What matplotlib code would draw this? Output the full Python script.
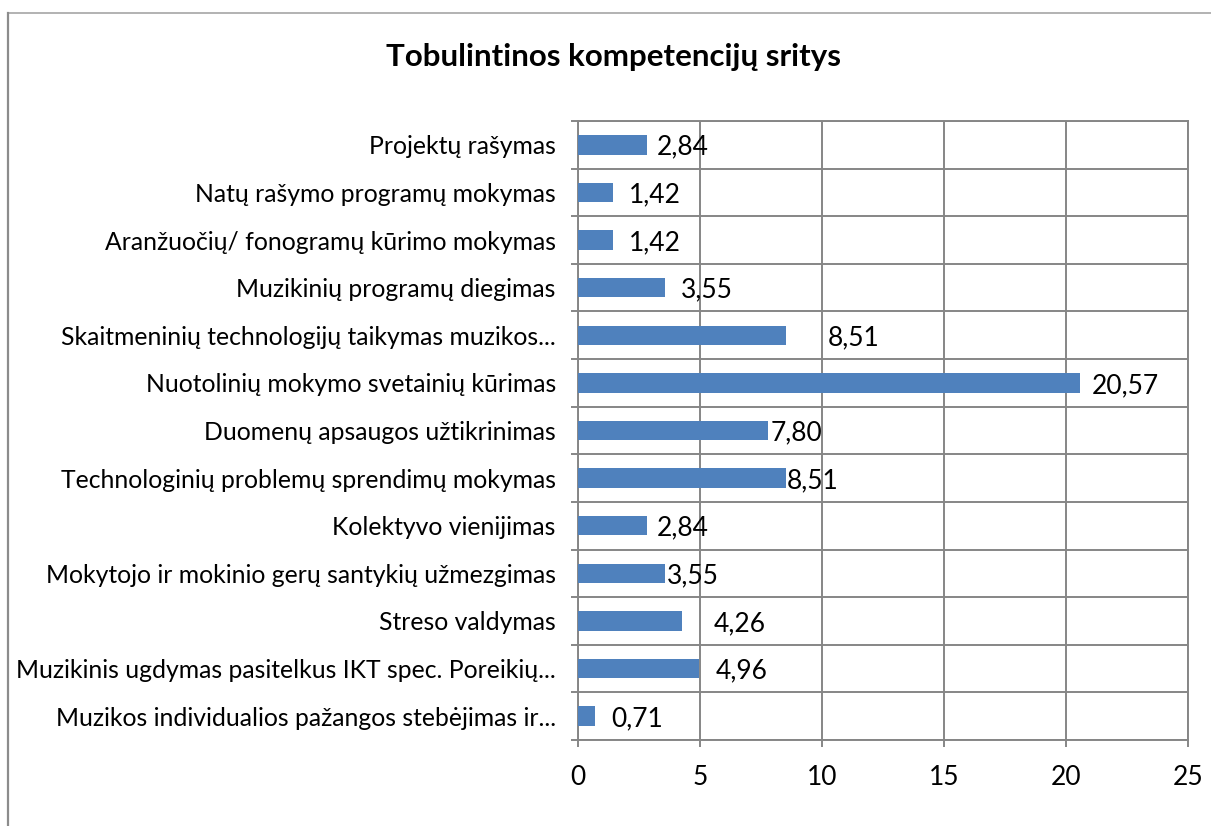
import numpy as np
import matplotlib
matplotlib.use('Agg')
import matplotlib.pyplot as plt
from matplotlib.patches import Rectangle

categories = [
    'Projektų rašymas',
    'Natų rašymo programų mokymas',
    'Aranžuočių/ fonogramų kūrimo mokymas',
    'Muzikinių programų diegimas',
    'Skaitmeninių technologijų taikymas muzikos...',
    'Nuotolinių mokymo svetainių kūrimas',
    'Duomenų apsaugos užtikrinimas',
    'Technologinių problemų sprendimų mokymas',
    'Kolektyvo vienijimas',
    'Mokytojo ir mokinio gerų santykių užmezgimas',
    'Streso valdymas',
    'Muzikinis ugdymas pasitelkus IKT spec. Poreikių...',
    'Muzikos individualios pažangos stebėjimas ir...',
]
values = [2.84, 1.42, 1.42, 3.55, 8.51, 20.57, 7.80, 8.51, 2.84, 3.55, 4.26, 4.96, 0.71]
x_ticks = [0, 5, 10, 15, 20, 25]

# horizontal nudge of each value label from the bar end, in points
label_pad = [6.5, 12, 12, 12, 30, 8.5, 2, 0.7, 6.5, 1.5, 23, 12, 11.5]

plt.rcParams['font.family'] = ['Lato', 'DejaVu Sans']
fs = 19

fig = plt.figure(figsize=(12.11, 8.26), dpi=100)
ax = fig.add_axes([578/1211, 1 - 740/826, 610/1211, 619/826])

# chart frame
fig.patches.append(Rectangle((8/1211, -0.1), 1.2, 1 - 13/826 + 0.1,
                             transform=fig.transFigure, fill=False,
                             edgecolor='#a6a6a6', linewidth=1.2))
fig.lines.append(plt.Line2D([8/1211, 8/1211], [0, 1 - 13/826],
                            transform=fig.transFigure, color='#8c8c8c', linewidth=1.6))

grid_c = '#868686'
y = np.arange(len(categories))
ax.barh(y, values, height=0.41, color='#4f81bd', zorder=3)

for yi, v, p in zip(y, values, label_pad):
    ax.annotate(f'{v:.2f}'.replace('.', ','), (v, yi), xytext=(p, -1.8),
                textcoords='offset points', ha='left', va='center', fontsize=fs)

ax.set_xlim(0, 25)
ax.set_ylim(len(categories) - 0.5, -0.5)
ax.set_xticks(x_ticks)
ax.set_xticklabels([str(t) for t in x_ticks], fontsize=fs)
ax.set_yticks(y)
ax.set_yticklabels(categories, fontsize=17.8)
ax.set_yticks(np.arange(len(categories) + 1) - 0.5, minor=True)

ax.tick_params(axis='y', which='major', length=0, pad=16)
ax.tick_params(axis='y', which='minor', length=5, width=1.4, color=grid_c)
ax.tick_params(axis='x', which='major', length=5, width=1.4, color=grid_c, pad=13)

ax.grid(axis='x', which='major', color=grid_c, linewidth=1.4, zorder=0)
ax.grid(axis='y', which='minor', color=grid_c, linewidth=1.4, zorder=0)
for s in ax.spines.values():
    s.set_color(grid_c)
    s.set_linewidth(1.4)

fig.text(614/1211, 1 - 57/826, 'Tobulintinos kompetencijų sritys',
         ha='center', va='center', fontsize=22.5, fontweight='bold')

plt.savefig('out.png', dpi=100)
